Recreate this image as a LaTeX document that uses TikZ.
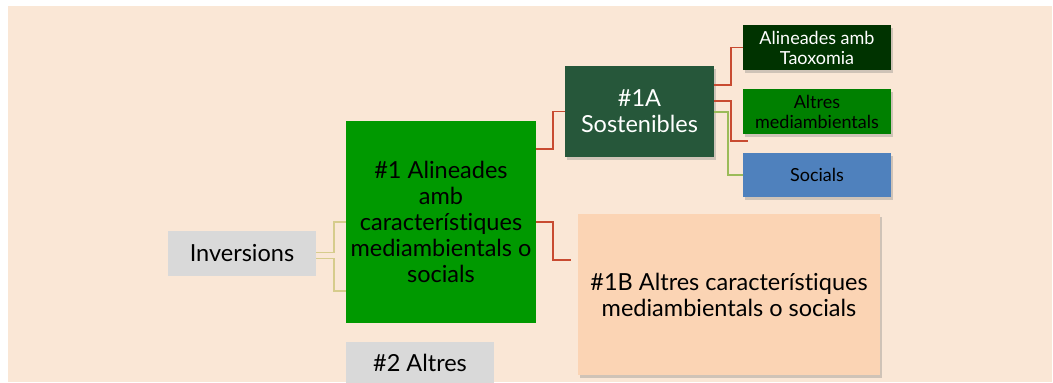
\documentclass[tikz,border=0pt]{standalone}
\usepackage{fontspec}
\setmainfont{Lato}[Ligatures=NoCommon]
\usetikzlibrary{shadows}
\definecolor{pagebg}{HTML}{FAE7D6}
\definecolor{boxgray}{HTML}{D9D9D9}
\definecolor{maingreen}{HTML}{009900}
\definecolor{sostgreen}{HTML}{26573A}
\definecolor{taxgreen}{HTML}{003300}
\definecolor{altgreen}{HTML}{008000}
\definecolor{socblue}{HTML}{4F81BD}
\definecolor{peachbox}{HTML}{FBD4B4}
\definecolor{redline}{HTML}{C84B31}
\definecolor{yelline}{HTML}{D6CC8C}
\definecolor{grnline}{HTML}{9BBB59}

\begin{document}
\begin{tikzpicture}[x=1pt, y=-1pt,
    box/.style={rectangle, inner sep=1pt, align=center, font=\fontsize{23.5}{26}\selectfont},
    smallbox/.style={box, minimum width=148pt, minimum height=45pt, font=\fontsize{18}{20}\selectfont,
        drop shadow={shadow xshift=1.5pt, shadow yshift=-2.5pt, opacity=0.35}},
    shadowed/.style={drop shadow={shadow xshift=1.5pt, shadow yshift=-2.5pt, opacity=0.35}},
    redge/.style={draw=redline, line width=1.8pt, -},
    yedge/.style={draw=yelline, line width=1.8pt, -},
    gedge/.style={draw=grnline, line width=1.8pt, -}
]
    \useasboundingbox (0,0) rectangle (1053,383);
    \fill[white] (0,0) rectangle (1053,383);
    \fill[pagebg] (8,6) rectangle (1052,382);

    \node[box, fill=boxgray, minimum width=148pt, minimum height=45pt] (inv) at (242,253.5) {Inversions};
    \node[box, fill=maingreen, minimum width=190pt, minimum height=202pt] (one) at (441,222)
        {\#1 Alineades\\amb\\característiques\\mediambientals o\\socials};
    \node[box, fill=boxgray, minimum width=148pt, minimum height=41pt] (two) at (420,362.5) {\#2 Altres};
    \node[box, shadowed, fill=sostgreen, text=white, minimum width=149pt, minimum height=91pt] (oneA) at (639.5,111.5)
        {\#1A\\Sostenibles};
    \node[box, shadowed, fill=peachbox, minimum width=302pt, minimum height=161pt] (oneB) at (729,294.5)
        {\#1B Altres característiques\\mediambientals o socials};
    \node[smallbox, fill=taxgreen, text=white] (tax) at (817,47.5) {Alineades amb\\Taoxomia};
    \node[smallbox, fill=altgreen] (alt) at (817,111.5) {Altres\\mediambientals};
    \node[smallbox, fill=socblue, minimum height=44pt] (soc) at (817,175) {Socials};

    \draw[yedge] ([yshift=1pt]inv.east) -- ++(18,0) |- (one.west);
    \draw[yedge] ([yshift=-5pt]inv.east) -- ++(18,0) |- ([yshift=-69pt]one.west);
    \draw[redge] ([yshift=73pt]one.east) -- ++(17,0) |- (oneA.west);
    \draw[redge] (one.east) -- ++(17,0) |- ([xshift=-7pt,yshift=34.5pt]oneB.west);
    \draw[redge] ([yshift=26.5pt]oneA.east) -- ++(17,0) |- (tax.west);
    \draw[redge] ([yshift=10.5pt]oneA.east) -- ++(17,0) |- ([xshift=5pt,yshift=-29.5pt]alt.west);
    \draw[gedge] ([yshift=-0.5pt]oneA.east) -- ++(14,0) |- (soc.west);
\end{tikzpicture}
\end{document}
